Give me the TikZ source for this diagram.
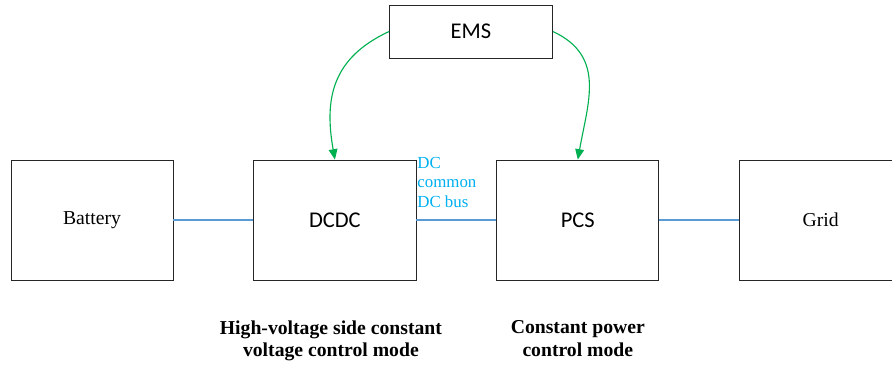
\documentclass[tikz,border=0pt]{standalone}
\usepackage{fontspec}
\setmainfont{Liberation Serif}
\newfontfamily\carlitofont{Carlito}
\usetikzlibrary{positioning,arrows.meta}
\definecolor{busblue}{RGB}{91,155,213}
\definecolor{lblblue}{RGB}{0,176,240}
\definecolor{ctlgreen}{RGB}{0,176,80}
\begin{document}
\begin{tikzpicture} [
   x=0.025cm, y=-0.025cm, node distance=2.0cm,
   blk/.style={draw=black!85, line width=0.6pt, minimum width=4.05cm, minimum height=3cm, inner sep=0pt},
   srf/.style={font=\fontsize{14}{16}\selectfont},
   snf/.style={font=\carlitofont\fontsize{16}{18}\selectfont},
   bus/.style={draw=busblue, line width=0.8pt},
   ctl/.style={draw=ctlgreen, line width=0.8pt, -{Triangle[length=2.6mm,width=2.2mm]}, fill=none},
   mode/.style={align=center, inner sep=0pt, font=\bfseries\fontsize{14}{16}\selectfont}
]
   \useasboundingbox (0,0) rectangle (892,365);
   \node (bat) [blk, srf] at (92,220) {Battery};
   \node (dcdc) [blk, snf, right=of bat] {DCDC};
   \node (pcs) [blk, snf, right=of dcdc] {PCS};
   \node (grid) [blk, srf, right=of pcs] {Grid};
   \node (ems) [blk, snf, minimum width=4.075cm, minimum height=1.325cm] at (471,31.5) {EMS};
   \node (buslbl) [anchor=north west, align=left, inner sep=0pt, text=lblblue,
      font=\fontsize{12}{14.2}\selectfont]
      at ([xshift=0.5pt, yshift=0.075cm]dcdc.north east) {DC\\common\\DC bus};
   \node (dcmode) [mode, below=1.0cm of dcdc, xshift=-0.1cm] {High-voltage side constant\\voltage control mode};
   \node (pcsmode) [mode, below=1.0cm of pcs] {Constant power\\control mode};
   \path (bat) edge [bus] (dcdc)
         (dcdc) edge [bus] (pcs)
         (pcs) edge [bus] (grid);
   \draw [ctl] (ems.west) to [out=205, in=100, looseness=1.15] (dcdc.north);
   \draw [ctl] (ems.east) to [out=-25, in=80, looseness=1.15] (pcs.north);
\end{tikzpicture}
\end{document}
